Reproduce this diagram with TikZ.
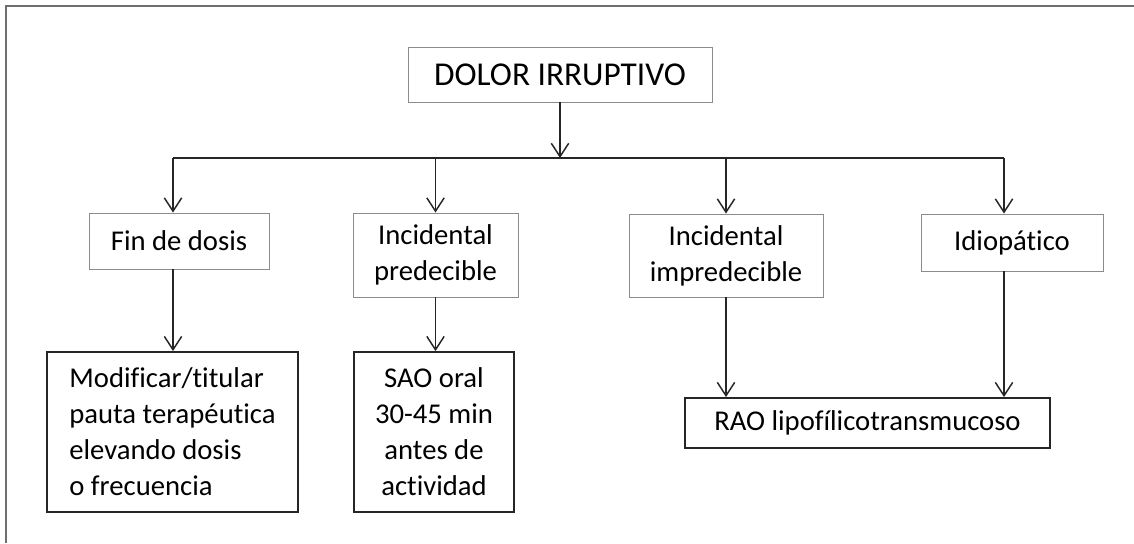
\documentclass[tikz,border=0pt]{standalone}
\usepackage{fontspec}
\setmainfont{Carlito}[Ligatures=NoCommon]
\usepackage{tikz}
\usetikzlibrary{arrows.meta}
\definecolor{boxgray}{HTML}{8C8C8C}
\definecolor{framegray}{HTML}{6E6E6E}

\begin{document}
\begin{tikzpicture}[x=0.75pt, y=-0.75pt,
  >={Straight Barb[length=10pt,width=13pt]},
  arr/.style={->, line width=1.1pt, draw=black!85},
  lvlbox/.style={draw=boxgray, line width=0.7pt, inner sep=0pt, align=center,
    font=\fontsize{21.5}{27}\selectfont},
  endbox/.style={draw=black!85, line width=1.4pt, inner sep=0pt,
    font=\fontsize{21.5}{27}\selectfont}]
  \useasboundingbox (0,0) rectangle (1134,543);
  \draw [framegray, line width=1.1pt] (1134,6) -- (6,6) -- (6,543);

  \node [lvlbox, minimum width=228pt, minimum height=41.25pt,
    font=\fontsize{25}{30}\selectfont] (TOP) at (560,74.5) {DOLOR IRRUPTIVO};
  \node [lvlbox, minimum width=135pt, minimum height=42pt] (FD) at (179,241) {Fin de dosis};
  \node [lvlbox, minimum width=123.75pt, minimum height=63pt] (IP) at (435.5,255) {Incidental\\predecible};
  \node [lvlbox, minimum width=145.5pt, minimum height=62.25pt] (II) at (726,255.5) {Incidental\\impredecible};
  \node [lvlbox, minimum width=136.5pt, minimum height=42.75pt] (ID) at (1012,242.5) {Idiopático};
  \node [endbox, align=left, minimum width=188.25pt, minimum height=120pt] (MOD) at (172.5,432)
    {Modificar/titular\\pauta terapéutica\\elevando dosis\\o frecuencia};
  \node [endbox, align=center, minimum width=120pt, minimum height=120pt] (SAO) at (434,432)
    {SAO oral\\30-45 min\\antes de\\actividad};
  \node [endbox, minimum width=273.75pt, minimum height=37.5pt] (RAO) at (867.5,423)
    {RAO lipofílicotransmucoso};

  \coordinate (BL) at (173,158);
  \coordinate (BR) at (1004,158);
  \draw [arr] (TOP) -- (TOP |- BL);
  \draw [line width=1.1pt, black!85] (BL) -- (BR);
  \draw [arr] (BL) -- (BL |- FD.north);
  \draw [arr] (IP.north |- BL) -- (IP.north);
  \draw [arr] (II.north |- BL) -- (II.north);
  \draw [arr] (BR) -- (BR |- ID.north);
  \draw [arr] (BL |- FD.south) -- (BL |- MOD.north);
  \draw [arr] (IP.south) -- (IP.south |- SAO.north);
  \draw [arr] (II.south) -- (II.south |- RAO.north);
  \draw [arr] (BR |- ID.south) -- (BR |- RAO.north);
\end{tikzpicture}
\end{document}
